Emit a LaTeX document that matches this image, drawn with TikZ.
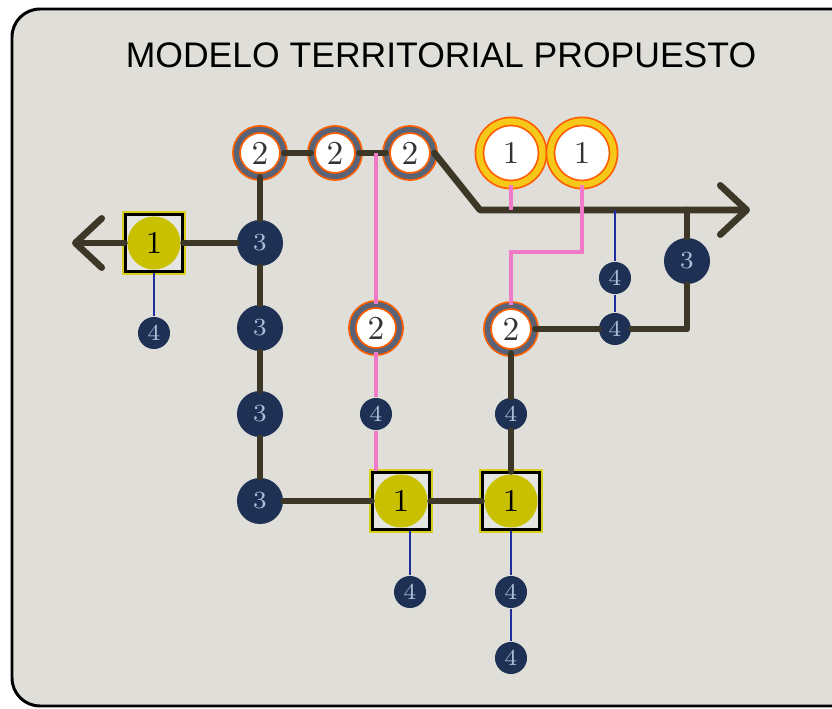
\documentclass[tikz,border=0pt]{standalone}
\usepackage{fontspec}
\usetikzlibrary{arrows.meta}
\newfontfamily\titlefont{Liberation Sans}
\definecolor{MTRoad}{RGB}{60,55,38}
\definecolor{MTNavy}{RGB}{30,48,84}
\definecolor{MTNum}{RGB}{175,190,215}
\definecolor{MTOrange}{RGB}{255,95,0}
\definecolor{MTSlate}{RGB}{90,98,118}
\definecolor{MTGold}{RGB}{246,200,25}
\definecolor{MTOlive}{RGB}{201,192,0}
\definecolor{MTLime}{RGB}{216,207,30}
\definecolor{MTPink}{RGB}{240,122,200}
\definecolor{MTBlue}{RGB}{30,45,160}
\definecolor{MTPaper}{RGB}{223,222,217}

\begin{document}
\begin{tikzpicture}[x=0.01cm, y=-0.01cm,
          rd/.style={draw=MTRoad, line width=1.9pt, line cap=round,
                     line join=round},
          tip/.style={-{Straight Barb[length=7.5pt, width=14pt, round]}},
          pk/.style={draw=MTPink, line width=1.1pt},
          bl/.style={draw=MTBlue, line width=0.85pt},
          r2x/.style={circle, minimum size=0.47cm, inner sep=0pt, fill=white,
                      draw=MTOrange, line width=0.5pt, double=MTSlate,
                      double distance=1.5pt, text=black!80,
                      font=\fontsize{9.5}{10}\selectfont},
          r1x/.style={circle, minimum size=0.63cm, inner sep=0pt, fill=white,
                      draw=MTOrange, line width=0.5pt, double=MTGold,
                      double distance=1.8pt, text=black!80,
                      font=\fontsize{9}{10}\selectfont},
          sqx/.style={rectangle, minimum size=0.56cm, inner sep=0pt,
                      fill=MTPaper!80!white, draw=black, line width=0.85pt,
                      preaction={draw=MTLime, line width=2pt},
                      path picture={\fill[MTOlive]
                        (path picture bounding box.center) circle (2.65mm);},
                      font=\fontsize{9}{10}\selectfont},
          c3x/.style={circle, minimum size=0.46cm, inner sep=0pt, fill=MTNavy,
                      text=MTNum, font=\fontsize{7}{8}\selectfont},
          c4x/.style={circle, minimum size=0.32cm, inner sep=0pt, fill=MTNavy,
                      text=MTNum, font=\fontsize{6.5}{7}\selectfont}
        ]
        \useasboundingbox (0,0) rectangle (832,709);
        % frame
        \draw[line width=0.85pt, fill=MTPaper, rounded corners=0.28cm]
              (12,9) rectangle (880,706);
        \node[font=\titlefont\fontsize{10.1}{12}\selectfont]
              (ttl) at (441,55) {MODELO TERRITORIAL PROPUESTO};

        % top row
        \node[r2x] (t2a) at (260,153) {2};
        \node[r2x] (t2b) at (335,153) {2};
        \node[r2x] (t2c) at (410,153) {2};
        \node[r1x] (y1a) at (511,153) {1};
        \node[r1x] (y1b) at (582,153) {1};

        % left branch
        \node[sqx] (sq1) at (154,243) {1};
        \node[c4x] (n4a) at (154,333) {4};
        \node[c3x] (n3a) at (260,243) {3};
        \node[c3x] (n3b) at (260,328) {3};
        \node[c3x] (n3c) at (260,414) {3};
        \node[c3x] (n3d) at (260,501) {3};

        % middle
        \node[r2x] (m2)  at (376,328) {2};
        \node[c4x] (n4b) at (376,414) {4};
        \node[sqx] (sq2) at (401,501) {1};
        \node[c4x] (n4d) at (410,592) {4};

        % right
        \node[r2x] (r2)  at (511,329) {2};
        \node[c4x] (n4c) at (511,414) {4};
        \node[sqx] (sq3) at (511,501) {1};
        \node[c4x] (n4e) at (511,592) {4};
        \node[c4x] (n4f) at (511,658) {4};
        \node[c4x] (n4g) at (615,278) {4};
        \node[c4x] (n4h) at (615,329) {4};
        \node[c3x] (n3e) at (687,261) {3};

        \coordinate (lw)   at (72,243);
        \coordinate (bend) at (480,210);
        \coordinate (re)   at (750,210);
        \coordinate (pkt)  at (376,153);
        \coordinate (pkm)  at (511,210);
        \coordinate (pkc)  at (511,252);
        \coordinate (blt)  at (615,210);
        \coordinate (cr)   at (687,329);
        \coordinate (cj)   at (687,210);

        % main roads
        \draw[rd, tip] (sq1) -- (lw);
        \draw[rd] (sq1) -- (n3a) -- (t2a) -- (t2b) -- (t2c);
        \draw[rd, tip] (t2c.east) -- (bend) -- (re);
        \draw[rd] (n3a) -- (n3b) -- (n3c) -- (n3d) -- (sq2) -- (sq3)
              -- (n4c) -- (r2) -- (n4h) -- (cr) -- (n3e) -- (cj);

        % pink links
        \draw[pk] (pkt) -- (m2) -- (n4b) -- (sq2.north -| n4b);
        \draw[pk] (y1a) -- (pkm);
        \draw[pk] (y1b) |- (pkc) -- (r2);

        % blue links
        \draw[bl] (sq1) -- (n4a);
        \draw[bl] (sq2.south -| n4d) -- (n4d);
        \draw[bl] (sq3) -- (n4e) -- (n4f);
        \draw[bl] (blt) -- (n4g) -- (n4h);
      \end{tikzpicture}
\end{document}
